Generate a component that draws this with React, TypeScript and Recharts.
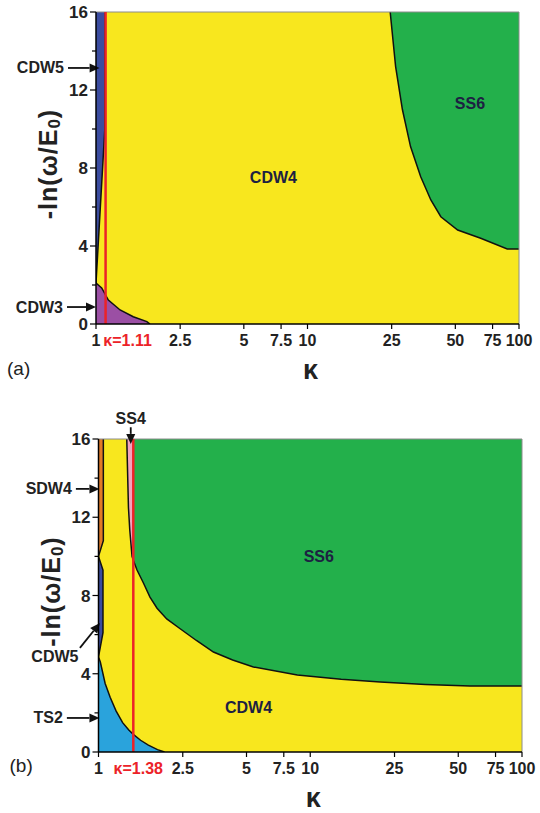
import React from "react";
import { ComposedChart, Area, Line, XAxis, YAxis, ReferenceLine, ReferenceDot } from "recharts";

const kappaTicks = [1, 2.5, 5, 7.5, 10, 25, 50, 75, 100];
const lnTicks = [0, 2, 4, 6, 8, 10, 12, 14, 16];
const TOP = 16;

// phase boundaries as [kappa, -ln(w/E0)]
// (a)
const aCDW5Edge = [[1, 2.1], [1.1, 9.95], [1.105, 16]];
const aCDW3Edge = [[1, 2.1], [1.064, 1.85], [1.144, 1.23], [1.3, 0.72], [1.5, 0.37], [1.74, 0.12], [1.8, 0]];
const aSS6Edge = [[24.6, 16], [26.1, 13.2], [28.1, 11.0], [30.7, 9.1], [34.3, 7.55], [38.3, 6.36], [42.7, 5.5], [51.3, 4.82], [65.9, 4.4], [88, 3.85], [100, 3.85]];

// (b)
const bSDW4Edge = [[1, 10.0], [1.054, 10.8], [1.054, 16]];
const bCDW5Upper = [[1, 10.0], [1.05, 9.3]];
const bCDW5Lower = [[1, 4.86], [1.05, 6.1]];
const bTS2Edge = [[1, 4.86], [1.02, 4.6], [1.075, 3.5], [1.135, 2.8], [1.21, 2.1], [1.3, 1.5], [1.39, 1.12], [1.46, 0.9], [1.58, 0.6], [1.72, 0.35], [1.9, 0.12], [2.05, 0]];
const bSS4Edge = [[1.36, 16], [1.385, 12.5], [1.405, 11.35], [1.44, 10.0], [1.46, 9.8]];
const bSS6Edge = [[1.46, 9.8], [1.52, 9.3], [1.63, 8.64], [1.75, 7.92], [1.89, 7.35], [2.1, 6.8], [2.43, 6.3], [2.9, 5.7], [3.49, 5.11], [4.3, 4.7], [5.39, 4.35], [8.69, 3.94], [14, 3.72], [21.4, 3.58], [35, 3.45], [56.8, 3.37], [100, 3.37]];

const aKappa = 1.11;
const bKappa = 1.46; // drawn where the figure draws it, labelled 1.38

const aNames = [{ k: 6.9, y: 7.54, text: "CDW4" }, { k: 58.6, y: 11.33, text: "SS6" }];
const bNames = [{ k: 10.97, y: 10.02, text: "SS6" }, { k: 5.11, y: 2.3, text: "CDW4" }];

const aArrows = [
  { from: [0.737, 13.13], to: [1.04, 13.13], text: "CDW5", side: "left" },
  { from: [0.729, 0.87], to: [1, 0.87], text: "CDW3", side: "left" },
];
const bArrows = [
  { from: [1.42, 16.6], to: [1.42, 15.75], text: "SS4", side: "top" },
  { from: [0.782, 13.45], to: [1.01, 13.45], text: "SDW4", side: "left" },
  { from: [0.817, 5.32], to: [1.016, 6.6], text: "CDW5", side: "below" },
  { from: [0.709, 1.74], to: [1.01, 1.74], text: "TS2", side: "left" },
];

const C = {
  cdw4: "#f8e71e",
  ss6: "#23b04b",
  cdw5: "#3b4c9f",
  cdw3: "#9b4fa4",
  sdw4: "#e27a26",
  ts2: "#2aa3dc",
  ss4: "#f2a3bd",
  red: "#ec2228",
  ink: "#222",
};

const above = (edge: number[][]) => edge.map(([k, y]) => ({ k, v: [y, TOP] }));
const below = (edge: number[][]) => edge.map(([k, y]) => ({ k, v: [0, y] }));
const between = (lo: number[][], hi: number[][]) => lo.map(([k, y], i) => ({ k, v: [y, hi[i][1]] }));
const path = (...edges: number[][][]) => edges.flat().map(([k, y]) => ({ k, y }));
const full = [{ k: 1, v: [0, TOP] }, { k: 100, v: [0, TOP] }];

function YTick(p: any) {
  const { x, y, payload } = p;
  const major = payload.value % 4 === 0;
  return (
    <g>
      <line x1={x + (major ? 2 : 4)} x2={x + 8} y1={y} y2={y} stroke="#000" strokeWidth={1.2} />
      {major && (
        <text x={x} y={y} dy="0.36em" textAnchor="end" fontSize={17} fontWeight={700} fill={C.ink}>
          {payload.value}
        </text>
      )}
    </g>
  );
}

function ArrowShape(p: any) {
  const { x1, y1, x2, y2 } = p;
  const a = Math.atan2(y2 - y1, x2 - x1);
  const c = Math.cos(a);
  const s = Math.sin(a);
  const bx = x2 - 10 * c;
  const by = y2 - 10 * s;
  return (
    <g>
      <line x1={x1} y1={y1} x2={bx} y2={by} stroke="#111" strokeWidth={1.8} />
      <polygon points={`${x2},${y2} ${bx - 4.5 * s},${by + 4.5 * c} ${bx + 4.5 * s},${by - 4.5 * c}`} fill="#111" />
    </g>
  );
}

const arrowLabel = (text: string, side: string) => (p: any) => {
  const vb = p.viewBox;
  let x = vb.x - 4;
  let y = vb.y;
  let anchor = "end";
  if (side === "top") {
    x = vb.x;
    y = vb.y - 9;
    anchor = "middle";
  } else if (side === "below") {
    x = vb.x - 25;
    y = vb.y + vb.height + 9;
    anchor = "middle";
  }
  return (
    <text x={x} y={y} textAnchor={anchor} dominantBaseline="central" fontSize={16} fontWeight={700} fill={C.ink}>
      {text}
    </text>
  );
};

const kappaLabel = (text: string, dx: number) => (p: any) => {
  const vb = p.viewBox;
  return (
    <text x={vb.x + dx} y={vb.y + vb.height + 22} textAnchor="middle" fontSize={16} fontWeight={700} fill={C.red}>
      {text}
    </text>
  );
};

const xTitle = (tag: string, tagDy: number) => (p: any) => {
  const vb = p.viewBox;
  return (
    <g>
      <text x={vb.x + vb.width / 2 + 3} y={vb.y + 55} textAnchor="middle" fontSize={27} fontWeight={700} fill={C.ink}>
        κ
      </text>
      <text x={vb.x - 89} y={vb.y + tagDy} textAnchor="start" fontSize={19} fill={C.ink}>
        {tag}
      </text>
    </g>
  );
};

const yTitle = (p: any) => {
  const vb = p.viewBox;
  const cx = vb.x + 12;
  const cy = vb.y + vb.height / 2 - 4;
  return (
    <text
      x={cx}
      y={cy}
      transform={`rotate(-90 ${cx} ${cy})`}
      textAnchor="middle"
      dominantBaseline="central"
      fontSize={25}
      fontWeight={700}
      letterSpacing={1}
      fill={C.ink}
    >
      -ln(ω/E<tspan dy={6} fontSize={17}>0</tspan>
      <tspan dy={-6}>)</tspan>
    </text>
  );
};

function Panel(props: any) {
  const { top, height, margin, regions, lines, kappa, kappaText, kappaDx, names, arrows, tag, tagDy } = props;
  return (
    <div style={{ position: "absolute", left: 0, top }}>
      <ComposedChart width={540} height={height} margin={margin}>
        {regions.map((r: any, i: number) => (
          <Area
            key={"r" + i}
            data={r.data}
            dataKey="v"
            type="linear"
            fill={r.fill}
            fillOpacity={1}
            stroke="none"
            dot={false}
            activeDot={false}
            isAnimationActive={false}
          />
        ))}
        {lines.map((d: any, i: number) => (
          <Line
            key={"l" + i}
            data={d}
            dataKey="y"
            type="linear"
            stroke="#111"
            strokeWidth={1.5}
            dot={false}
            activeDot={false}
            isAnimationActive={false}
          />
        ))}
        <ReferenceLine y={TOP} stroke="#8c8c8c" strokeWidth={1} />
        <ReferenceLine x={100} stroke="#8c8c8c" strokeWidth={1} />
        <ReferenceLine x={kappa} stroke={C.red} strokeWidth={2.5} label={kappaLabel(kappaText, kappaDx)} />
        {names.map((n: any) => (
          <ReferenceDot
            key={n.text}
            x={n.k}
            y={n.y}
            r={0}
            fill="none"
            stroke="none"
            ifOverflow="visible"
            label={{ value: n.text, position: "center", fill: "#1d2142", fontSize: 16, fontWeight: 700 }}
          />
        ))}
        {arrows.map((a: any) => (
          <ReferenceLine
            key={a.text + a.side}
            segment={[{ x: a.from[0], y: a.from[1] }, { x: a.to[0], y: a.to[1] }]}
            ifOverflow="visible"
            shape={ArrowShape}
            label={arrowLabel(a.text, a.side)}
          />
        ))}
        <XAxis
          dataKey="k"
          type="number"
          scale="log"
          domain={[1, 100]}
          allowDataOverflow
          ticks={kappaTicks}
          interval={0}
          height={56}
          tickSize={5}
          tickMargin={6}
          tick={{ fontSize: 16, fontWeight: 700, fill: C.ink }}
          tickLine={{ stroke: "#000", strokeWidth: 1.2 }}
          axisLine={{ stroke: "#000", strokeWidth: 1.5 }}
          label={xTitle(tag, tagDy)}
        />
        <YAxis
          type="number"
          domain={[0, TOP]}
          allowDataOverflow
          ticks={lnTicks}
          interval={0}
          width={60}
          tickSize={6}
          tickMargin={2}
          tickLine={false}
          tick={(p: any) => <YTick {...p} />}
          axisLine={{ stroke: "#000", strokeWidth: 1.5 }}
          label={yTitle}
        />
      </ComposedChart>
    </div>
  );
}

export default function App() {
  return (
    <div
      style={{
        position: "absolute",
        left: 0,
        top: 0,
        width: 540,
        height: 813,
        background: "#fff",
        fontFamily: "'Liberation Sans', Arial, sans-serif",
      }}
    >
      <Panel
        top={0}
        height={400}
        margin={{ top: 12, right: 21, bottom: 20, left: 36 }}
        regions={[
          { data: full, fill: C.cdw4 },
          { data: above(aCDW5Edge), fill: C.cdw5 },
          { data: below(aCDW3Edge), fill: C.cdw3 },
          { data: above(aSS6Edge), fill: C.ss6 },
        ]}
        lines={[path(aCDW5Edge), path(aCDW3Edge), path(aSS6Edge)]}
        kappa={aKappa}
        kappaText="κ=1.11"
        kappaDx={22}
        names={aNames}
        arrows={aArrows}
        tag="(a)"
        tagDy={51}
      />
      <Panel
        top={400}
        height={413}
        margin={{ top: 39, right: 18, bottom: 5, left: 38.5 }}
        regions={[
          { data: full, fill: C.cdw4 },
          { data: above(bSDW4Edge), fill: C.sdw4 },
          { data: between(bCDW5Lower, bCDW5Upper), fill: C.cdw5 },
          { data: below(bTS2Edge), fill: C.ts2 },
          { data: above(bSS4Edge), fill: C.ss4 },
          { data: above(bSS6Edge), fill: C.ss6 },
        ]}
        lines={[
          path(bSDW4Edge),
          path(bCDW5Upper, [...bCDW5Lower].reverse()),
          path(bTS2Edge),
          path(bSS4Edge, bSS6Edge),
        ]}
        kappa={bKappa}
        kappaText="κ=1.38"
        kappaDx={5}
        names={bNames}
        arrows={bArrows}
        tag="(b)"
        tagDy={20}
      />
    </div>
  );
}
